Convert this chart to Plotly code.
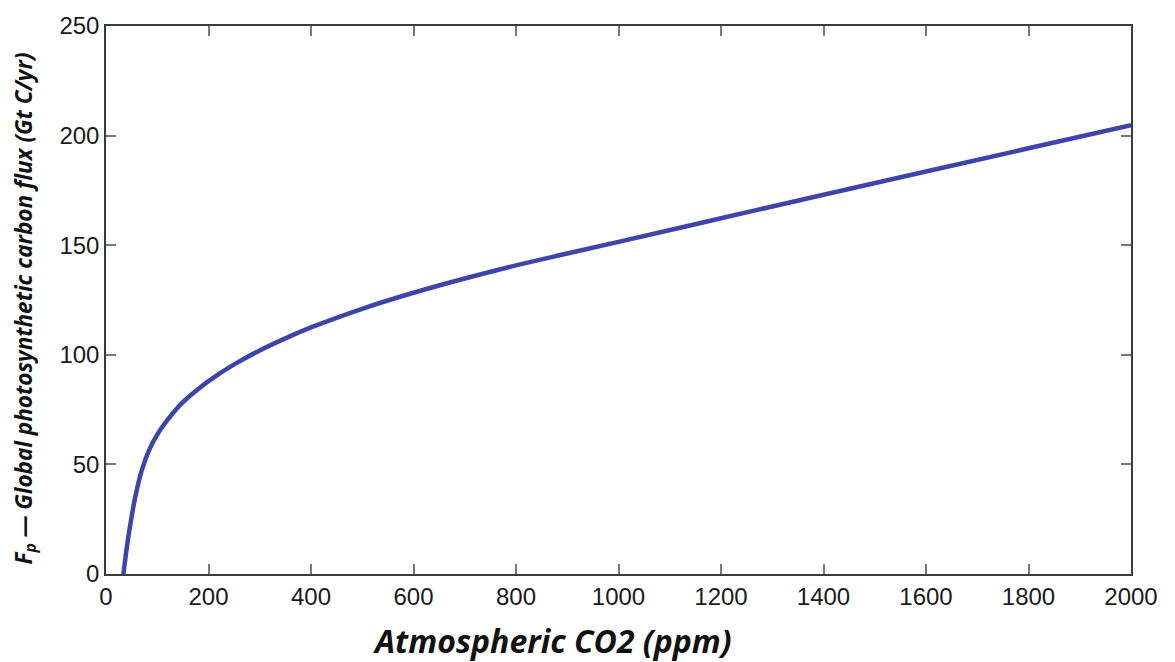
import plotly.graph_objects as go

co2_ppm = [34, 40, 47, 57, 70, 85, 100, 120, 140, 160, 180, 200, 250, 300, 350, 400, 500,
           600, 700, 800, 900, 1000, 1200, 1400, 1600, 1800, 2000]
flux_gtc = [0, 11, 22, 35, 47.5, 57, 63.6, 70.3, 76, 80.5, 84.4, 88, 95.6, 102, 107.5, 112.5, 121,
            128.3, 134.8, 140.8, 146.2, 151.5, 162.3, 173, 183.6, 194.2, 204.7]

x_ticks = [0, 200, 400, 600, 800, 1000, 1200, 1400, 1600, 1800, 2000]
y_ticks = [0, 50, 100, 150, 200, 250]

fig = go.Figure()
fig.add_trace(go.Scatter(
    x=co2_ppm, y=flux_gtc, mode="lines",
    line=dict(color="#3b45aa", width=4.5, shape="spline", smoothing=1.0),
    hoverinfo="skip", showlegend=False,
))

axis_common = dict(
    showgrid=False, zeroline=False, showline=True, linecolor="#3a3a3a", linewidth=1.5,
    mirror="ticks", ticks="inside", ticklen=10, tickwidth=1.5, tickcolor="#777777",
    tickfont=dict(family="Liberation Sans, Arial, sans-serif", size=24, color="#1a1a1a"),
)

fig.update_xaxes(range=[0, 2000], tickvals=x_ticks, ticktext=[str(v) for v in x_ticks], **axis_common)
fig.update_yaxes(range=[0, 250], tickvals=y_ticks, ticktext=[str(v) for v in y_ticks], **axis_common)

fig.add_annotation(
    text="<b><i>Atmospheric CO2 (ppm)</i></b>", xref="paper", yref="paper",
    x=(552 - 106) / 1025, y=-(641 - 574) / 553, xanchor="center", yanchor="middle",
    showarrow=False, font=dict(family="Open Sans, sans-serif", size=32, color="#111111"),
)
fig.add_annotation(
    text="<b><i>F<sub>p</sub> — Global photosynthetic carbon flux (Gt C/yr)</i></b>",
    xref="paper", yref="paper", x=(25 - 106) / 1025, y=(574 - 306) / 553,
    xanchor="center", yanchor="middle", textangle=-90, showarrow=False,
    font=dict(family="Open Sans, sans-serif", size=22.5, color="#111111"),
)

fig.update_layout(
    width=1175, height=662, margin=dict(l=106, r=44, t=21, b=88),
    plot_bgcolor="white", paper_bgcolor="white",
)

fig.write_html("out.html")
